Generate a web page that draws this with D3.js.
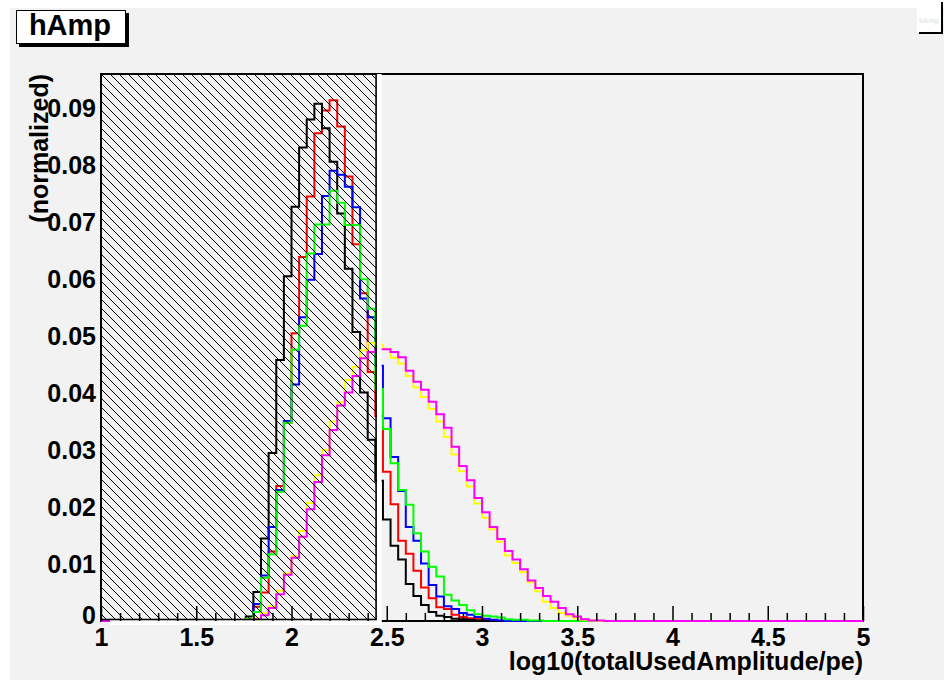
<!DOCTYPE html>
<html><head><meta charset="utf-8">
<script src="https://cdn.jsdelivr.net/npm/d3@7"></script>
<style>
html,body{margin:0;padding:0;background:#fff;}
text{font-family:"Liberation Sans",Arial,Helvetica,sans-serif;font-weight:bold;}
</style></head><body>
<svg id="c" width="944" height="686"></svg>
<script>
// Histogram binning: 100 bins of width 0.04 on [1,5]; listed contents start at the 1.72 bin
const axisRange = [1, 5];
const binWidth = 0.04;
const firstBinLow = 1.72;
const yAxisMax = 0.096;
const cutRange = [1, 2.444];           // shaded (excluded) amplitude range
const xTickValues = [1, 1.5, 2, 2.5, 3, 3.5, 4, 4.5, 5];
const yTickValues = [0, 0.01, 0.02, 0.03, 0.04, 0.05, 0.06, 0.07, 0.08, 0.09];
const xTitle = "log10(totalUsedAmplitude/pe)";
const yTitle = "(normalized)";
const histName = "hAmp";

// normalized bin contents per sample
const hRed = [0, 0.0002, 0.0025, 0.0050, 0.0122, 0.0237, 0.0348, 0.0505, 0.0639, 0.0745, 0.0856, 0.0896, 0.0914, 0.0868, 0.0780, 0.0661, 0.0575, 0.0437, 0.0360, 0.0262, 0.0205, 0.0141, 0.0118, 0.0088, 0.0059, 0.0040, 0.0024, 0.0021, 0.0011, 0.0007, 0.0005, 0.0004, 0.0002, 0.0001, 0, 0, 0, 0, 0, 0, 0, 0, 0, 0, 0, 0, 0, 0, 0];
const hBlack = [0.0001, 0.0008, 0.0051, 0.0145, 0.0295, 0.0458, 0.0605, 0.0727, 0.0831, 0.0880, 0.0908, 0.0865, 0.0806, 0.0715, 0.0618, 0.0507, 0.0401, 0.0318, 0.0246, 0.0178, 0.0132, 0.0108, 0.0065, 0.0044, 0.0028, 0.0016, 0.0009, 0.0007, 0.0004, 0.0003, 0.0002, 0.0001, 0, 0, 0, 0, 0, 0, 0, 0, 0, 0, 0, 0, 0, 0, 0, 0, 0];
const hBlue = [0, 0.0003, 0.0030, 0.0080, 0.0165, 0.0230, 0.0351, 0.0415, 0.0533, 0.0599, 0.0644, 0.0746, 0.0790, 0.0783, 0.0762, 0.0726, 0.0566, 0.0533, 0.0448, 0.0356, 0.0288, 0.0228, 0.0165, 0.0141, 0.0101, 0.0063, 0.0043, 0.0026, 0.0021, 0.0014, 0.0011, 0.0007, 0.0004, 0.0002, 0.0001, 0, 0, 0, 0, 0, 0, 0, 0, 0, 0, 0, 0, 0, 0];
const hGreen = [0, 0.0004, 0.0016, 0.0076, 0.0117, 0.0227, 0.0348, 0.0476, 0.0518, 0.0645, 0.0696, 0.0696, 0.0755, 0.0734, 0.0695, 0.0695, 0.0600, 0.0548, 0.0407, 0.0337, 0.0277, 0.0230, 0.0204, 0.0154, 0.0122, 0.0095, 0.0078, 0.0046, 0.0036, 0.0028, 0.0019, 0.0012, 0.0009, 0.0008, 0.0006, 0.0003, 0.0002, 0.0002, 0.0001, 0.0001, 0, 0, 0, 0, 0, 0, 0, 0, 0];
const hYellow = [0, 0.0002, 0.0005, 0.0014, 0.0026, 0.0053, 0.0084, 0.0114, 0.0158, 0.0207, 0.0256, 0.0300, 0.0350, 0.0384, 0.0423, 0.0446, 0.0475, 0.0488, 0.0485, 0.0478, 0.0462, 0.0452, 0.0430, 0.0410, 0.0393, 0.0372, 0.0350, 0.0323, 0.0292, 0.0263, 0.0236, 0.0206, 0.0181, 0.0161, 0.0139, 0.0115, 0.0102, 0.0086, 0.0068, 0.0052, 0.0034, 0.0023, 0.0014, 0.0009, 0.0005, 0.0002, 0.0001, 0, 0];
const hMagenta = [0, 0.0001, 0.0003, 0.0010, 0.0023, 0.0047, 0.0081, 0.0111, 0.0148, 0.0196, 0.0244, 0.0291, 0.0335, 0.0378, 0.0401, 0.0430, 0.0461, 0.0472, 0.0477, 0.0477, 0.0472, 0.0463, 0.0439, 0.0420, 0.0406, 0.0385, 0.0363, 0.0339, 0.0306, 0.0272, 0.0247, 0.0216, 0.0191, 0.0165, 0.0144, 0.0123, 0.0108, 0.0091, 0.0071, 0.0058, 0.0044, 0.0034, 0.0023, 0.0012, 0.0008, 0.0003, 0.0001, 0.0001, 0];

const seriesList = [hRed, hBlack, hBlue, hGreen, hYellow, hMagenta];
const seriesColors = ["#ff0000", "#000000", "#0000ff", "#00ff00", "#ffff00", "#ff00ff"];

const svg = d3.select("#c");
const frame = {left: 101, right: 863, top: 74, bottom: 621};
const x = d3.scaleLinear().domain(axisRange).range([frame.left, frame.right]);
const y = d3.scaleLinear().domain([0, yAxisMax]).range([frame.bottom, frame.top]);
const fontPx = 25;

// hatch pattern for the excluded region
const defs = svg.append("defs");
const pat = defs.append("pattern").attr("id", "hatch")
  .attr("patternUnits", "userSpaceOnUse").attr("width", 9).attr("height", 9);
pat.append("path").attr("d", "M0,0 L9,9 M-1,8 L1,10 M8,-1 L10,1")
  .attr("stroke", "#000").attr("stroke-width", 1).attr("fill", "none");

// canvas
svg.append("rect").attr("x", 10).attr("y", 8).attr("width", 934).attr("height", 672).attr("fill", "#f2f2f2");

// frame
svg.append("rect").attr("x", frame.left).attr("y", frame.top)
  .attr("width", frame.right - frame.left).attr("height", frame.bottom - frame.top)
  .attr("fill", "none").attr("stroke", "#000").attr("stroke-width", 2);

// step outlines
function stepPoints(vals) {
  const pts = [[axisRange[0], 0]];
  vals.forEach((v, i) => {
    const lo = firstBinLow + i * binWidth;
    pts.push([lo, v], [lo + binWidth, v]);
  });
  pts.push([axisRange[1], 0]);
  return pts;
}
const line = d3.line().x(d => x(d[0])).y(d => y(d[1]));
svg.append("g").selectAll("path").data(seriesList).join("path")
  .attr("d", d => line(stepPoints(d)))
  .attr("fill", "none")
  .attr("stroke", (d, i) => seriesColors[i])
  .attr("stroke-width", 2);

// excluded region box
const bx0 = x(cutRange[0]), bx1 = x(cutRange[1]);
svg.append("rect").attr("x", bx1 + 1).attr("y", frame.top).attr("width", 4.5)
  .attr("height", frame.bottom + 4 - frame.top).attr("fill", "#fff");
svg.append("rect").attr("x", bx0 + 9).attr("y", frame.bottom - 1).attr("width", bx1 + 5.5 - bx0 - 9)
  .attr("height", 5).attr("fill", "#fff");
svg.append("rect").attr("x", bx0).attr("y", frame.top)
  .attr("width", bx1 - bx0).attr("height", frame.bottom - 1.5 - frame.top)
  .attr("fill", "url(#hatch)").attr("stroke", "#000").attr("stroke-width", 1.6);

// x axis: major and minor ticks inside the frame, labels below
const minorTicks = d3.range(10, 51).map(v => v / 10).filter(v => !xTickValues.includes(v));
svg.append("g").attr("transform", `translate(0,${frame.bottom})`)
  .call(d3.axisBottom(x).tickValues(minorTicks).tickSize(-8).tickFormat(""))
  .call(g => g.select(".domain").remove())
  .call(g => g.selectAll("line").attr("stroke-width", 1.5));
svg.append("g").attr("transform", `translate(0,${frame.bottom})`)
  .call(d3.axisBottom(x).tickValues(xTickValues).tickSize(-15).tickPadding(7).tickFormat(d3.format("")))
  .call(g => g.select(".domain").remove())
  .call(g => g.selectAll("line").attr("stroke-width", 1.5))
  .call(g => g.selectAll("text").attr("font-size", fontPx).attr("fill", "#000")
    .attr("font-family", null));

// y axis labels
const yFmt = v => v === 0 ? "0" : d3.format(".2f")(v);
svg.append("g").attr("transform", `translate(${frame.left},0)`)
  .call(d3.axisLeft(y).tickValues(yTickValues).tickSize(0).tickPadding(5).tickFormat(yFmt))
  .call(g => g.select(".domain").remove())
  .call(g => g.selectAll("text").attr("font-size", fontPx).attr("fill", "#000")
    .attr("font-family", null).attr("dy", d => d === 0 ? "0.1em" : "0.35em"));

// axis titles
svg.append("text").attr("x", frame.right).attr("y", 670).attr("text-anchor", "end")
  .attr("font-size", fontPx).text(xTitle);
svg.append("text").attr("transform", `translate(48,${frame.top}) rotate(-90)`)
  .attr("text-anchor", "end").attr("font-size", fontPx).text(yTitle);

// title box
svg.append("rect").attr("x", 19).attr("y", 13).attr("width", 110).attr("height", 34).attr("fill", "#000");
svg.append("rect").attr("x", 16.5).attr("y", 10.5).attr("width", 109).attr("height", 33)
  .attr("fill", "#fff").attr("stroke", "#000").attr("stroke-width", 1);
svg.append("text").attr("x", 70).attr("y", 35).attr("text-anchor", "middle")
  .attr("font-size", 29).text(histName);

// statistics box (clipped at the canvas corner)
svg.append("rect").attr("x", 919).attr("y", 2).attr("width", 24).attr("height", 32).attr("fill", "#000");
svg.append("rect").attr("x", 917).attr("y", 0).attr("width", 24).attr("height", 32).attr("fill", "#fff");
svg.append("text").attr("x", 929).attr("y", 23).attr("text-anchor", "middle")
  .attr("font-size", 7).attr("fill", "#e6e6e6").text(histName);
</script>
</body></html>
